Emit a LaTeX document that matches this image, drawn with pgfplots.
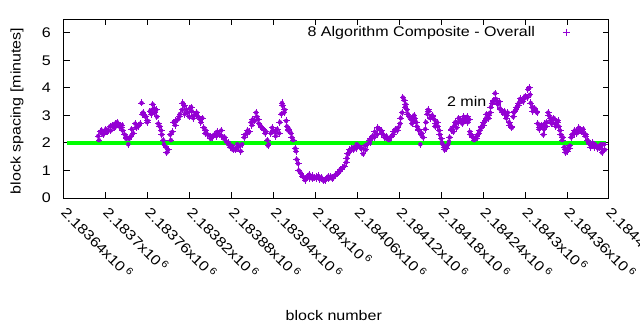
\documentclass[border=0pt]{standalone}
\usepackage{pgfplots}
\pgfplotsset{compat=1.18}
\usepackage{pgfplotstable}
\usepackage{fontspec}
\setmainfont[FakeStretch=1.15]{Liberation Sans}
\definecolor{gpviolet}{RGB}{148,0,211}
\definecolor{gpgreen}{RGB}{0,255,0}

\pgfplotstableread{
block minutes
2183689 2.25
2183692 2.4
2183694 2.45
2183697 2.35
2183700 2.5
2183703 2.45
2183706 2.6
2183710 2.65
2183713 2.7
2183716 2.75
2183719 2.6
2183722 2.55
2183724 2.45
2183727 2.3
2183730 2.2
2183733 2.15
2183736 2.25
2183739 2.35
2183743 2.55
2183746 2.6
2183749 2.7
2183752 3.05
2183754 3.05
2183757 2.95
2183760 2.8
2183763 3.15
2183766 3.2
2183769 3.25
2183772 3.2
2183775 2.7
2183777 2.6
2183780 2.3
2183783 1.95
2183786 1.85
2183789 1.75
2183792 2.3
2183795 2.4
2183797 2.75
2183800 2.8
2183803 2.85
2183806 3.05
2183809 3.2
2183812 3.35
2183815 3.2
2183817 3.1
2183820 3.25
2183823 3.15
2183826 3.0
2183829 3.05
2183832 2.95
2183835 2.85
2183838 2.9
2183840 2.55
2183843 2.45
2183846 2.3
2183849 2.25
2183852 2.2
2183855 2.3
2183858 2.25
2183860 2.35
2183863 2.3
2183866 2.25
2183869 2.15
2183872 2.05
2183875 1.95
2183878 1.85
2183880 1.9
2183883 1.8
2183886 1.75
2183889 1.85
2183892 1.9
2183895 1.95
2183899 2.3
2183902 2.35
2183905 2.4
2183908 2.75
2183910 2.85
2183913 2.8
2183916 2.95
2183919 2.7
2183922 2.6
2183925 2.5
2183928 2.35
2183931 2.1
2183933 1.95
2183936 2.35
2183939 2.45
2183942 2.4
2183945 2.5
2183948 2.35
2183951 3.05
2183953 3.35
2183956 3.2
2183959 2.6
2183962 2.5
2183965 2.35
2183968 2.1
2183971 1.8
2183973 1.4
2183976 1.0
2183981 0.8
2183983 0.75
2183986 0.7
2183989 0.78
2183992 0.72
2183995 0.8
2183998 0.75
2184001 0.72
2184004 0.8
2184006 0.68
2184009 0.7
2184014 0.65
2184016 0.72
2184019 0.7
2184022 0.78
2184025 0.75
2184028 0.82
2184031 0.88
2184034 0.95
2184036 1.05
2184041 1.15
2184044 1.3
2184046 1.6
2184049 1.75
2184052 1.8
2184055 1.85
2184058 1.8
2184061 1.9
2184064 1.85
2184066 1.8
2184071 1.9
2184074 1.95
2184077 2.1
2184079 2.15
2184082 2.25
2184085 2.4
2184088 2.3
2184091 2.5
2184094 2.45
2184097 2.3
2184099 2.2
2184102 2.15
2184107 2.2
2184109 2.25
2184112 2.4
2184115 2.5
2184118 2.55
2184121 2.7
2184124 3.1
2184127 3.55
2184129 3.4
2184132 3.05
2184137 2.85
2184139 2.8
2184142 2.9
2184145 2.6
2184148 2.45
2184151 2.3
2184154 2.2
2184157 2.5
2184160 3.05
2184162 3.15
2184167 3.0
2184170 2.85
2184172 2.7
2184175 2.6
2184178 2.3
2184181 2.0
2184184 1.85
2184187 1.8
2184190 1.95
2184192 2.2
2184195 2.45
2184198 2.6
2184201 2.7
2184204 2.75
2184208 2.8
2184211 2.85
2184214 2.9
2184217 2.95
2184220 2.85
2184222 2.3
2184225 2.2
2184230 2.15
2184232 2.3
2184235 2.45
2184238 2.6
2184241 2.75
2184244 2.9
2184247 3.0
2184250 3.1
2184253 3.45
2184255 3.55
2184258 3.6
2184261 3.4
2184264 3.25
2184268 3.1
2184271 3.05
2184274 3.0
2184277 2.75
2184280 2.6
2184283 2.95
2184285 3.15
2184288 3.3
2184291 3.45
2184295 3.55
2184298 3.6
2184301 3.7
2184304 3.95
2184307 3.75
2184310 3.3
2184313 3.2
2184316 3.15
2184318 2.7
2184321 2.55
2184324 2.6
2184327 2.5
2184331 2.75
2184334 3.0
2184337 2.8
2184340 2.85
2184343 2.7
2184346 2.75
2184348 2.6
2184351 2.3
2184354 2.2
2184357 1.75
2184361 1.8
2184364 1.9
2184367 2.3
2184370 2.35
2184373 2.4
2184376 2.45
2184379 2.5
2184381 2.45
2184384 2.35
2184387 2.3
2184390 2.0
2184393 1.95
2184396 1.9
2184400 1.95
2184403 1.85
2184406 1.9
2184409 1.95
2184411 1.75
}\spacingmain

\pgfplotstableread{
block minutes
2183690 2.1
2183696 2.3
2183702 2.4
2183707 2.45
2183712 2.55
2183714 2.6
2183717 2.7
2183723 2.65
2183729 2.15
2183732 1.95
2183737 2.5
2183742 2.7
2183747 2.65
2183751 3.45
2183753 3.1
2183759 2.75
2183765 3.05
2183767 3.4
2183770 3.1
2183773 2.95
2183779 2.45
2183782 2.1
2183787 1.65
2183793 2.1
2183799 2.65
2183805 2.95
2183810 3.45
2183813 3.05
2183819 2.95
2183822 3.3
2183825 2.9
2183830 3.1
2183836 2.75
2183842 2.35
2183850 2.15
2183859 2.4
2183865 2.45
2183870 2.2
2183876 2.0
2183882 1.75
2183888 1.95
2183893 1.7
2183898 2.2
2183903 2.45
2183909 2.65
2183915 3.1
2183918 2.85
2183923 2.55
2183929 2.4
2183932 1.9
2183938 2.55
2183943 2.25
2183949 2.75
2183952 3.45
2183955 3.1
2183958 2.8
2183961 2.45
2183966 2.2
2183972 1.7
2183975 1.25
2183979 0.9
2183985 0.65
2183991 0.85
2183996 0.7
2184002 0.78
2184008 0.75
2184012 0.62
2184018 0.78
2184024 0.7
2184029 0.85
2184035 1.0
2184039 1.1
2184045 1.45
2184048 1.65
2184054 1.75
2184059 1.95
2184065 1.8
2184068 1.6
2184072 1.75
2184078 2.0
2184084 2.2
2184089 2.55
2184095 2.35
2184101 2.25
2184105 2.1
2184111 2.3
2184117 2.45
2184122 2.9
2184125 3.65
2184128 3.3
2184131 3.2
2184134 2.95
2184138 2.7
2184141 3.0
2184144 2.75
2184147 2.5
2184150 1.95
2184152 2.35
2184158 2.75
2184161 3.2
2184164 2.9
2184168 2.95
2184171 2.6
2184174 2.75
2184177 2.45
2184180 2.15
2184182 1.95
2184185 1.75
2184188 1.9
2184191 2.05
2184194 2.5
2184197 2.4
2184200 2.75
2184202 2.55
2184205 2.9
2184210 2.7
2184212 2.95
2184215 2.8
2184218 2.75
2184221 2.4
2184224 2.25
2184227 2.1
2184231 2.25
2184234 2.35
2184237 2.55
2184240 2.65
2184243 2.8
2184245 3.05
2184248 2.9
2184251 3.3
2184254 3.5
2184257 3.8
2184260 3.45
2184263 3.5
2184265 3.2
2184270 3.15
2184273 2.9
2184275 3.1
2184278 2.65
2184281 2.55
2184284 3.1
2184287 3.2
2184290 3.35
2184293 3.6
2184297 3.5
2184300 3.7
2184303 3.65
2184306 4.0
2184308 3.45
2184311 3.15
2184314 3.25
2184317 3.1
2184320 2.5
2184323 2.65
2184326 2.3
2184328 2.7
2184330 2.6
2184333 3.1
2184336 2.9
2184338 2.7
2184341 2.9
2184344 2.6
2184347 2.8
2184350 2.45
2184353 2.1
2184356 1.85
2184358 1.65
2184360 1.7
2184363 1.8
2184366 2.2
2184368 2.3
2184371 2.45
2184374 2.35
2184377 2.55
2184380 2.4
2184383 2.5
2184386 2.25
2184389 2.1
2184391 2.05
2184394 1.85
2184397 2.0
2184399 1.85
2184401 1.9
2184404 1.8
2184407 1.85
2184410 1.65
2184413 1.95
2184414 1.75
}\spacingextra

\pgfplotsset{
  gpplus/.style={forget plot, only marks, mark=none, color=gpviolet,
    error bars/.cd, x dir=both, x fixed=5, y dir=both, y fixed=0.127, error mark=none,
    error bar style={color=gpviolet, line width=0.9bp}},
}

\begin{document}
\begin{tikzpicture}
\path[use as bounding box] (-64bp,-132bp) rectangle (576bp,198bp);
\begin{axis}[
  at={(0,0)}, anchor=south west,
  scale only axis, width=545bp, height=179bp,
  font=\fontsize{14}{16}\selectfont,
  xmin=2183640, xmax=2184420, ymin=0, ymax=6.5,
  scaled x ticks=false, scaled y ticks=false,
  xtick={2183640,2183700,2183760,2183820,2183880,2183940,2184000,2184060,2184120,2184180,2184240,2184300,2184360,2184420},
  xticklabels={2.18364x10\,\textsuperscript{6},2.1837x10\,\textsuperscript{6},2.18376x10\,\textsuperscript{6},2.18382x10\,\textsuperscript{6},2.18388x10\,\textsuperscript{6},2.18394x10\,\textsuperscript{6},2.184x10\,\textsuperscript{6},2.18406x10\,\textsuperscript{6},2.18412x10\,\textsuperscript{6},2.18418x10\,\textsuperscript{6},2.18424x10\,\textsuperscript{6},2.1843x10\,\textsuperscript{6},2.18436x10\,\textsuperscript{6},2.18442x10\,\textsuperscript{6}},
  ytick={0,1,2,3,4,5,6},
  /pgf/number format/assume math mode=true,
  tick align=inside,
  major tick length=6bp,
  axis line style={line width=1bp},
  every tick/.style={black, line width=1bp},
  xticklabel style={yshift=-7bp, xshift=5bp, rotate=-45, anchor=north west, inner sep=0pt},
  yticklabel style={anchor=east, inner sep=0pt, xshift=-13bp},
  xlabel={block number},
  ylabel={block spacing [minutes]},
  xlabel style={at={(axis description cs:0.495,0)}, anchor=center, yshift=-118bp},
  ylabel style={at={(axis description cs:-0.0862,0.486)}, anchor=center},
  legend plot pos=right,
  legend cell align=right,
  legend style={draw=none, fill=none, inner sep=0pt, at={(rel axis cs:0.443,0.927)}, anchor=west, font=\fontsize{14}{16}\selectfont},
  clip=true,
]
\addlegendimage{only marks, mark=+, mark size=3.5bp, draw=gpviolet, color=gpviolet, line width=0.9bp}
\addlegendentry{8 Algorithm Composite - Overall\hspace*{26bp}}
\addplot[gpplus] table[x=block, y=minutes] {\spacingmain};
\addplot[gpplus] table[x=block, y=minutes] {\spacingextra};
\addplot[forget plot, color=gpgreen, line width=4bp] coordinates {(2183644,2) (2184416,2)};
\node[anchor=west, inner sep=0pt] at (axis cs:2184188,3.5) {2 min};
\end{axis}
\end{tikzpicture}
\end{document}
